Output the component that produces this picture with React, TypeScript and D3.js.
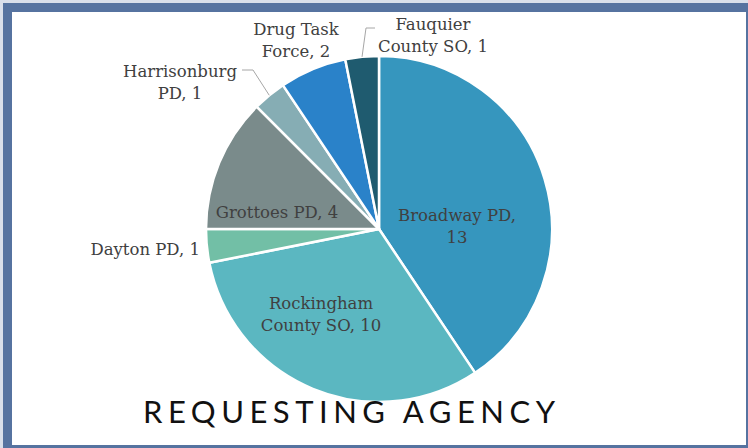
import React from "react";
import * as d3 from "d3";

const agencies = [
  "Broadway PD",
  "Rockingham County SO",
  "Dayton PD",
  "Grottoes PD",
  "Harrisonburg PD",
  "Drug Task Force",
  "Fauquier County SO",
];
const requests = [13, 10, 1, 4, 1, 2, 1];
const labelLines = [
  ["Broadway PD,", "13"],
  ["Rockingham", "County SO, 10"],
  ["Dayton PD, 1"],
  ["Grottoes PD, 4"],
  ["Harrisonburg", "PD, 1"],
  ["Drug Task", "Force, 2"],
  ["Fauquier", "County SO, 1"],
];
const sliceColors = ["#3696BE", "#5BB7C1", "#72BFA6", "#7A8B8B", "#86ADB4", "#2A82C9", "#1F5B6F"];
const title = "REQUESTING AGENCY";

// layout (label anchor relative to pie centre, text-anchor, leader)
const labelLayout = [
  { dx: 78, dy: -8, anchor: "middle", leader: false },
  { dx: -58, dy: 80, anchor: "middle", leader: false },
  { dx: -179, dy: 26, anchor: "end", leader: false },
  { dx: -102, dy: -11, anchor: "middle", leader: false },
  { dx: -199, dy: -152, anchor: "middle", leader: true, lx: 242, ly: 70, kx: 253 },
  { dx: -83, dy: -194, anchor: "middle", leader: false },
  { dx: 54, dy: -199, anchor: "middle", leader: true, lx: 375, ly: 28, kx: 366 },
];

const W = 748;
const H = 448;
const cx = 379;
const cy = 229;
const R = 173;

export default function App() {
  const pie = d3.pie<number>().sort(null).value((d) => d);
  const arcs = pie(requests);
  const arc = d3.arc<d3.PieArcDatum<number>>().innerRadius(0).outerRadius(R);
  const edgeArc = d3.arc<d3.PieArcDatum<number>>().innerRadius(R).outerRadius(R);
  const lineH = 21.5;

  return (
    <svg
      width={W}
      height={H}
      style={{ position: "absolute", left: 0, top: 0 }}
      xmlns="http://www.w3.org/2000/svg"
    >
      <rect x={0} y={0} width={W} height={H} fill="#D9DFEA" />
      <rect x={3} y={3} width={W - 3} height={H - 3} fill="#5673A0" />
      <rect x={12} y={12} width={734} height={433} fill="#FFFFFF" />
      <g transform={`translate(${cx},${cy})`}>
        {arcs.map((a, i) => (
          <path
            key={agencies[i]}
            d={arc(a) || ""}
            fill={sliceColors[i]}
            stroke="#FFFFFF"
            strokeWidth={2.5}
            strokeLinejoin="round"
          />
        ))}
      </g>
      {arcs.map((a, i) => {
        const L = labelLayout[i];
        if (!L.leader) return null;
        const [ex, ey] = edgeArc.centroid(a);
        return (
          <polyline
            key={"l" + i}
            points={`${L.lx},${L.ly} ${L.kx},${L.ly} ${cx + ex},${cy + ey}`}
            fill="none"
            stroke="#A6A6A6"
            strokeWidth={1}
          />
        );
      })}
      {labelLines.map((lines, i) => {
        const L = labelLayout[i];
        const x = cx + L.dx;
        const y0 = cy + L.dy;
        return (
          <text
            key={"t" + i}
            x={x}
            y={y0}
            textAnchor={L.anchor as any}
            fontFamily="'DejaVu Serif', serif"
            fontSize={16.5}
            fill="#404040"
          >
            {lines.map((ln, j) => (
              <tspan key={j} x={x} y={y0 + j * lineH}>
                {ln}
              </tspan>
            ))}
          </text>
        );
      })}
      <text
        x={143}
        y={423}
        fontFamily="Lato, 'Open Sans', sans-serif"
        fontSize={31}
        fill="#111111"
        textLength={412}
        lengthAdjust="spacing"
      >
        {title}
      </text>
    </svg>
  );
}
